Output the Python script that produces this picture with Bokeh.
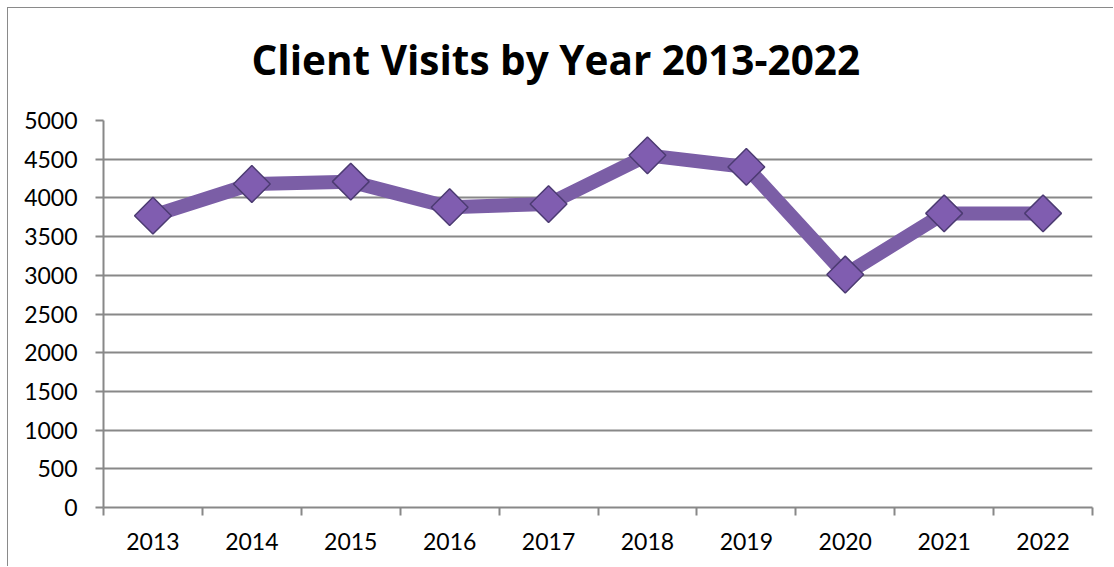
from bokeh.plotting import figure
from bokeh.models import FixedTicker, Range1d, Title
from bokeh.embed import file_html
from bokeh.resources import INLINE
import numpy as np

years = [2013, 2014, 2015, 2016, 2017, 2018, 2019, 2020, 2021, 2022]
visits = [3770, 4180, 4210, 3880, 3920, 4550, 4400, 3010, 3800, 3800]
y_ticks = [0, 500, 1000, 1500, 2000, 2500, 3000, 3500, 4000, 4500, 5000]
title_text = "Client Visits by Year 2013-2022"

GRAY = "#888888"
FONT = "Lato"

p = figure(width=1106, height=559, output_backend="svg", toolbar_location=None,
           x_range=Range1d(years[0] - 0.5, years[-1] + 0.5),
           y_range=Range1d(y_ticks[0], y_ticks[-1]),
           min_border_left=95, min_border_right=22, min_border_top=112,
           min_border_bottom=60, title=None)
p.outline_line_color = None
p.background_fill_color = "white"
p.border_fill_color = "white"
p.styles = {"margin-left": "7px", "margin-top": "7px",
            "border-left": "1px solid #8a8a8a", "border-top": "1px solid #8a8a8a"}

# spacer between the frame and the title
spacer = Title(text=" ", text_font_size="2px", standoff=29, text_color="white")
p.add_layout(spacer, "above")
t = Title(text=title_text, align="left", offset=148, text_font="Open Sans",
          text_font_size="40.5px", text_font_style="bold", text_color="black",
          vertical_align="middle", standoff=0)
p.add_layout(t, "above")

# x axis
minor = [y - 0.5 for y in years] + [years[-1] + 0.5]
p.xaxis.ticker = FixedTicker(ticks=years, minor_ticks=minor)
p.xaxis.major_tick_line_color = None
p.xaxis.major_tick_out = 0
p.xaxis.major_tick_in = 0
p.xaxis.minor_tick_line_color = GRAY
p.xaxis.minor_tick_line_width = 2
p.xaxis.minor_tick_out = 8
p.xaxis.minor_tick_in = 0
p.xaxis.axis_line_color = GRAY
p.xaxis.axis_line_width = 2
p.xaxis.major_label_text_font = FONT
p.xaxis.major_label_text_font_size = "23px"
p.xaxis.major_label_text_color = "black"
p.xaxis.major_label_standoff = 17
p.xgrid.grid_line_color = None

# y axis
p.yaxis.ticker = FixedTicker(ticks=y_ticks)
p.yaxis.minor_tick_line_color = None
p.yaxis.major_tick_line_color = GRAY
p.yaxis.major_tick_line_width = 2
p.yaxis.major_tick_out = 8
p.yaxis.major_tick_in = 0
p.yaxis.axis_line_color = GRAY
p.yaxis.axis_line_width = 2
p.yaxis.major_label_text_font = FONT
p.yaxis.major_label_text_font_size = "23px"
p.yaxis.major_label_text_color = "black"
p.yaxis.major_label_standoff = 18
p.ygrid.grid_line_color = GRAY
p.ygrid.grid_line_width = 2

p.line(years, visits, line_color="#7B5EA6", line_width=14, line_join="round")
p.scatter(years, visits, marker="square", angle=np.pi / 4, size=26,
          fill_color="#805DB0", line_color="#4C3B72", line_width=1.5)

open("out.html", "w").write(file_html(p, INLINE))
